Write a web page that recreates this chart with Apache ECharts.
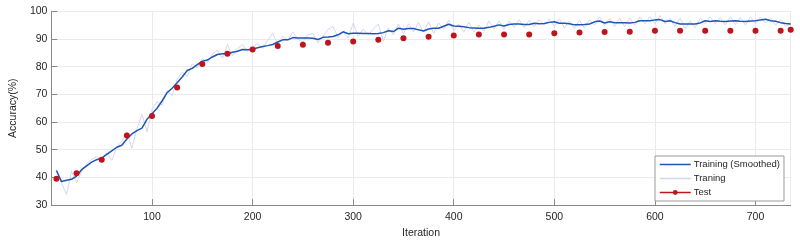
<!DOCTYPE html>
<html>
<head>
<meta charset="utf-8">
<script src="https://cdn.jsdelivr.net/npm/echarts@6/dist/echarts.min.js"></script>
<style>
html,body{margin:0;padding:0;background:#fff;}
#chart{width:800px;height:244px;}
</style>
</head>
<body>
<div id="chart"></div>
<script>
// iterations where the training curves were logged
var trainIter = [5,10,15,20,25,30,35,40,45,50,55,60,65,70,75,80,85,90,95,100,
    105,110,115,120,125,130,135,140,145,150,155,160,165,170,175,180,185,190,195,200,
    205,210,215,220,225,230,235,240,245,250,255,260,265,270,275,280,285,290,295,300,
    305,310,315,320,325,330,335,340,345,350,355,360,365,370,375,380,385,390,395,400,
    405,410,415,420,425,430,435,440,445,450,455,460,465,470,475,480,485,490,495,500,
    505,510,515,520,525,530,535,540,545,550,555,560,565,570,575,580,585,590,595,600,
    605,610,615,620,625,630,635,640,645,650,655,660,665,670,675,680,685,690,695,700,
    705,710,715,720,725,730,735];

// 平滑后的训练精度
var trainSmooth = [42.5,38.5,39.0,39.3,40.5,42.8,44.2,45.5,46.4,47.0,48.3,49.6,50.9,51.6,53.9,55.7,56.9,57.8,61.0,63.0,
    65.0,67.6,70.6,72.2,74.2,76.3,78.6,79.4,80.7,82.0,82.4,83.5,84.4,84.7,84.7,85.2,85.6,86.2,86.1,86.3,
    86.8,87.3,87.6,88.0,88.9,89.7,89.7,90.5,90.4,90.4,90.4,90.3,89.8,90.6,90.7,90.9,91.5,92.6,91.9,92.1,
    92.1,92.0,92.0,91.9,92.0,92.3,93.0,92.7,93.9,93.5,93.8,93.8,93.3,92.9,93.6,93.9,93.9,94.6,95.3,94.7,
    94.6,94.4,94.1,94.0,93.9,93.9,94.2,94.6,95.1,94.7,95.2,95.4,95.4,95.2,95.2,95.7,95.5,95.6,96.0,96.2,
    95.7,95.7,95.5,95.1,95.1,95.2,95.4,96.2,96.5,95.8,96.2,95.9,95.9,95.9,95.8,96.0,96.6,96.6,96.6,96.9,
    97.0,96.3,96.6,95.9,95.4,95.4,95.4,95.4,95.8,96.6,96.3,96.6,96.4,96.3,96.5,96.6,96.4,96.3,96.5,96.6,
    96.9,97.1,96.6,96.4,95.9,95.6,95.4];

// 原始训练精度
var trainRaw = [42.5,38.0,33.8,42.2,38.1,42.0,45.0,46.5,47.5,46.0,49.0,46.2,51.0,53.0,56.5,50.5,57.5,62.8,56.5,64.5,
    67.5,66.0,71.5,69.5,75.5,78.0,76.5,81.0,79.5,83.0,81.5,84.5,86.0,83.0,88.0,84.0,86.5,88.0,85.5,87.0,
    88.5,86.5,89.5,92.0,88.0,91.0,89.5,92.5,90.0,88.8,91.5,92.0,88.5,91.0,93.5,94.5,90.5,92.5,90.3,95.7,
    91.0,93.5,91.5,93.5,95.4,89.2,94.0,91.5,95.4,92.0,95.5,92.5,96.0,92.5,96.2,92.0,95.8,93.5,96.8,93.0,
    95.5,92.5,96.0,92.5,95.0,92.8,96.5,93.5,96.5,93.5,96.5,94.2,97.0,94.0,96.8,94.5,97.0,95.0,97.2,94.5,
    97.3,94.0,96.5,93.8,96.8,94.0,97.0,95.0,98.0,94.8,97.5,94.5,97.5,94.5,97.5,95.0,98.0,95.5,98.0,95.5,
    98.5,95.5,97.5,94.5,97.5,93.8,96.5,94.0,97.5,95.5,98.0,95.5,97.8,95.0,98.0,95.2,97.8,95.0,98.0,95.5,
    98.0,95.8,97.5,95.0,97.0,94.5,95.5];

// 测试精度
var testIter = [5,25,50,75,100,125,150,175,200,225,250,275,300,325,350,375,400,425,450,475,
    500,525,550,575,600,625,650,675,700,725,735];
var testAcc = [39.5,41.5,46.4,55.1,62.2,72.5,81.0,84.7,86.2,87.5,87.9,88.6,89.1,89.7,90.3,90.8,91.3,91.6,91.6,91.6,
    92.1,92.3,92.5,92.6,93.0,93.0,93.0,93.0,93.0,93.0,93.3];

var seriesNames = ['Training (Smoothed)', 'Traning', 'Test'];

function pairs(xs, ys) {
    var out = [];
    for (var i = 0; i < xs.length; i++) out.push([xs[i], ys[i]]);
    return out;
}

var font = 'Liberation Sans, Arial, sans-serif';
var txt = '#262626';
var blue = '#1f56b4', lav = '#d3d7f0', red = '#c0141c';

var myChart = echarts.init(document.getElementById('chart'), null, {renderer: 'canvas'});
var option = {
    animation: false,
    grid: {
        left: 43,
        right: 9.3,
        top: 11.3,
        bottom: 37.3,
        containLabel: false
    },
    legend: {
        orient: 'vertical',
        left: 655,
        top: 156,
        padding: [3, 4, 3, 4],
        itemGap: 3,
        itemWidth: 31,
        itemHeight: 6,
        backgroundColor: '#fff',
        borderColor: '#9a9a9a',
        borderWidth: 1,
        borderRadius: 0,
        textStyle: {color: txt, fontSize: 9.5, fontFamily: font, lineHeight: 11, padding: [0, 0, 0, -2]},
        data: [
            {name: seriesNames[0], itemStyle: {opacity: 0}, lineStyle: {color: blue, width: 1.5, opacity: 1}},
            {name: seriesNames[1], itemStyle: {opacity: 0}, lineStyle: {color: lav, width: 1.5, opacity: 1}},
            {name: seriesNames[2], lineStyle: {color: red, width: 1.5, opacity: 1}}
        ]
    },
    xAxis: {
        type: 'value',
        min: 0,
        max: 735,
        interval: 100,
        name: 'Iteration',
        nameLocation: 'middle',
        nameGap: 21,
        nameTextStyle: {color: txt, fontSize: 10.5, fontFamily: font},
        axisLine: {show: true, onZero: false, lineStyle: {color: '#8a8a8a', width: 1}},
        axisTick: {show: true, inside: true, length: 6, lineStyle: {color: '#8a8a8a'}},
        axisLabel: {
            color: txt, fontSize: 10.5, fontFamily: font, margin: 7,
            showMinLabel: false, showMaxLabel: false
        },
        splitLine: {show: true, lineStyle: {color: '#ebebeb', width: 1}}
    },
    yAxis: {
        type: 'value',
        min: 30,
        max: 100,
        interval: 10,
        name: 'Accuracy(%)',
        nameLocation: 'middle',
        nameGap: 26,
        nameTextStyle: {color: txt, fontSize: 10.5, fontFamily: font},
        axisLine: {show: true, lineStyle: {color: '#8a8a8a', width: 1}},
        axisTick: {show: true, inside: true, length: 6, lineStyle: {color: '#8a8a8a'}},
        axisLabel: {color: txt, fontSize: 10.5, fontFamily: font, margin: 4},
        splitLine: {show: true, lineStyle: {color: '#ebebeb', width: 1}}
    },
    series: [
        {
            name: seriesNames[1],
            type: 'line',
            data: pairs(trainIter, trainRaw),
            symbol: 'none',
            z: 2,
            lineStyle: {color: lav, width: 1},
            itemStyle: {color: lav}
        },
        {
            name: seriesNames[0],
            type: 'line',
            data: pairs(trainIter, trainSmooth),
            symbol: 'none',
            z: 3,
            lineStyle: {color: blue, width: 1.5},
            itemStyle: {color: blue}
        },
        {
            name: seriesNames[2],
            type: 'line',
            data: pairs(testIter, testAcc),
            symbol: 'circle',
            symbolSize: 6,
            z: 4,
            lineStyle: {color: red, width: 1.5, opacity: 0},
            itemStyle: {color: red}
        }
    ]
};
myChart.setOption(option);
</script>
</body>
</html>
